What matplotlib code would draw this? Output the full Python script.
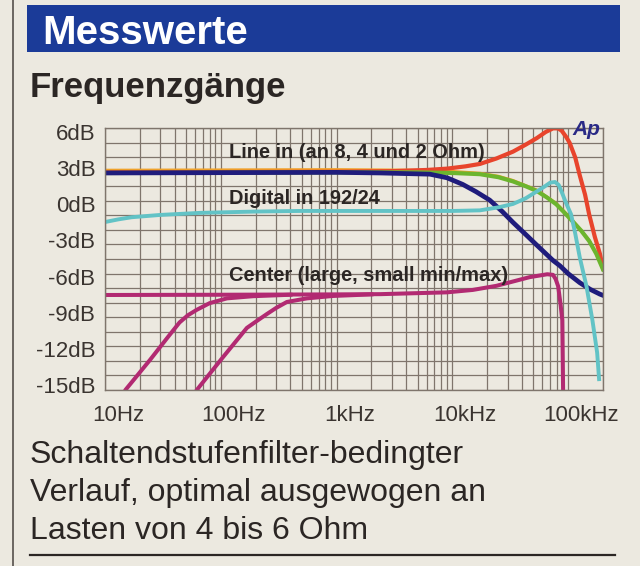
import numpy as np
import matplotlib
matplotlib.use("Agg")
import matplotlib.pyplot as plt
import matplotlib.transforms as mtransforms

# ---- chart data ----
header = "Messwerte"
title = "Frequenzgänge"
caption = ["Schaltendstufenfilter-bedingter",
           "Verlauf, optimal ausgewogen an",
           "Lasten von 4 bis 6 Ohm"]

x_ticks = [10, 100, 1000, 10000, 100000]
x_labels = ["10Hz", "100Hz", "1kHz", "10kHz", "100kHz"]
y_ticks = [6, 3, 0, -3, -6, -9, -12, -15]
y_labels = ["6dB", "3dB", "0dB", "-3dB", "-6dB", "-9dB", "-12dB", "-15dB"]

# Line in, three loads (+ one mostly hidden trace)
orange_f = [10, 1000, 5000, 10000, 17300, 25000, 33400, 53800, 79000, 109000, 152000, 200000]
orange_db = [2.85, 2.9, 2.85, 2.75, 2.6, 2.35, 2.0, 1.2, 0.1, -1.3, -2.95, -5.3]

red_f = [10, 1000, 3000, 6000, 9000, 13000, 17300, 24000, 33400, 43000, 53800, 64000,
         74000, 82000, 88000, 96000, 103000, 115000, 126000, 140000, 152000, 170000,
         188000, 200000]
red_db = [2.65, 2.7, 2.75, 2.85, 2.96, 3.15, 3.35, 3.8, 4.37, 4.95, 5.5, 6.0,
          6.3, 6.3, 6.1, 5.6, 5.1, 3.9, 2.4, 0.8, -0.85, -2.7, -4.1, -5.3]

green_f = [10, 1000, 5000, 10000, 17300, 25000, 33400, 43000, 53800, 66000, 79000,
           92000, 109000, 130000, 152000, 175000, 200000]
green_db = [2.6, 2.65, 2.65, 2.6, 2.5, 2.25, 1.9, 1.5, 1.1, 0.55, 0.0,
            -0.65, -1.4, -2.2, -3.05, -4.1, -5.4]

navy_f = [10, 1000, 2400, 6400, 9000, 12300, 16000, 21000, 27000, 33400, 43000, 53800,
          73900, 85000, 100000, 126000, 155000, 188000, 200000]
navy_db = [2.6, 2.65, 2.6, 2.5, 2.2, 1.65, 1.05, 0.35, -0.6, -1.5, -2.5, -3.4,
           -4.65, -5.1, -5.75, -6.5, -7.05, -7.45, -7.55]

# Digital in 192/24
cyan_f = [10, 13, 17, 30, 66, 200, 480, 3500, 10000, 17300, 25000, 33400, 43000, 53800,
          62000, 70000, 77000, 83000, 89000, 96000, 106000, 115000, 126000, 144000,
          162000, 178000, 185000]
cyan_db = [-1.47, -1.25, -1.07, -0.88, -0.71, -0.6, -0.55, -0.55, -0.55, -0.5, -0.25, 0.03,
           0.5, 1.08, 1.45, 1.8, 1.85, 1.6, 0.9, 0.1, -0.83, -2.4, -4.4, -6.8,
           -9.6, -12.3, -14.5]

# Center (large, small min/max)
center_f = [10, 100, 1000, 2400, 9000, 15000, 24000, 35000, 46500, 66000, 74000, 78000,
            82000, 86000, 89000, 90500]
center_db = [-7.52, -7.5, -7.47, -7.45, -7.3, -7.1, -6.76, -6.35, -6.04, -5.8, -5.85, -6.2,
             -6.8, -8.3, -9.6, -15.6]
center_hp1_f = [14, 15, 24.5, 35, 44, 52, 62, 80, 113, 190, 400]
center_hp1_db = [-16.2, -15.4, -12.9, -11.0, -9.8, -9.2, -8.75, -8.2, -7.8, -7.62, -7.5]
center_hp2_f = [58, 62, 102, 168, 210, 250, 300, 372, 555, 930, 2000]
center_hp2_db = [-16.0, -15.4, -12.8, -10.25, -9.6, -9.1, -8.6, -8.1, -7.8, -7.6, -7.47]

paper = "#ece9e0"
grid_c = "#7f756c"
ink = "#2b2624"

plt.rcParams["font.family"] = ["Liberation Sans", "DejaVu Sans"]

fig = plt.figure(figsize=(6.4, 5.66), dpi=100, facecolor=paper)
W, H = 640.0, 566.0

# page decorations
fig.add_artist(plt.Line2D([13 / W, 13 / W], [0, 1], color="#55504c", lw=1.2))
fig.add_artist(plt.Rectangle((27 / W, 1 - 52 / H), (620 - 27) / W, 47 / H,
                             color="#1b3b98", lw=0))
fig.text(42 / W, 1 - 44 / H, header, color="white", fontsize=29, fontweight="bold",
         ha="left", va="baseline")
fig.text(30 / W, 1 - 97 / H, title, color=ink, fontsize=25, fontweight="bold",
         ha="left", va="baseline")
for i, line in enumerate(caption):
    fig.text(30 / W, 1 - (463 + 38 * i) / H, line, color=ink, fontsize=23,
             ha="left", va="baseline")
fig.add_artist(plt.Line2D([30 / W, 615 / W], [1 - 555 / H, 1 - 555 / H], color=ink, lw=1.6))

# plot
ax = fig.add_axes([105 / W, (H - 390) / H, 498 / W, 262 / H])
ax.set_facecolor(paper)
ax.set_xscale("log")
ax.set_xlim(10, 200000)
ax.set_ylim(-15.4, 6.33)

ax.set_xticks(x_ticks)
ax.set_xticklabels(x_labels)
ax.set_yticks(y_ticks)
ax.set_yticklabels(y_labels)
ax.set_yticks(np.linspace(-15.4, 6.33, 19), minor=True)
ax.tick_params(which="both", length=0)
ax.tick_params(axis="x", pad=11, labelsize=16, labelcolor="#3a3430")
ax.tick_params(axis="y", pad=7, labelsize=16, labelcolor="#3a3430")
shift = mtransforms.ScaledTranslation(0.13, 0, fig.dpi_scale_trans)
for lab in ax.get_xticklabels():
    lab.set_transform(lab.get_transform() + shift)

ax.grid(which="both", axis="x", color=grid_c, lw=0.9)
ax.grid(which="minor", axis="y", color=grid_c, lw=0.9)
ax.grid(which="major", axis="y", visible=False)
for s in ax.spines.values():
    s.set_color(grid_c)
    s.set_linewidth(1.0)

ax.plot(orange_f, orange_db, color="#f0a22a", lw=1.8)
ax.plot(red_f, red_db, color="#e8442c", lw=3.0)
ax.plot(green_f, green_db, color="#6cb52e", lw=3.0)
ax.plot(navy_f, navy_db, color="#1f1c7c", lw=3.4)
ax.plot(cyan_f, cyan_db, color="#62c3c6", lw=2.8)
for f, db in [(center_f, center_db), (center_hp1_f, center_hp1_db), (center_hp2_f, center_hp2_db)]:
    ax.plot(f, db, color="#b22a72", lw=2.9)

lab_font = dict(fontweight="bold", fontsize=14.4, color=ink, ha="left", va="center",
                transform=ax.transAxes)
ax.text(0.249, (4.3 + 15.4) / 21.73, "Line in (an 8, 4 und 2 Ohm)", **lab_font)
ax.text(0.249, (0.5 + 15.4) / 21.73, "Digital in 192/24", **lab_font)
ax.text(0.249, (-5.9 + 15.4) / 21.73, "Center (large, small min/max)", **lab_font)
ax.text(0.938, 1.03, "Ap", transform=ax.transAxes, fontsize=15, fontweight="bold",
        fontstyle="italic", color="#2a2a86", ha="left", va="top")

fig.savefig("out.png", dpi=100, facecolor=paper)
